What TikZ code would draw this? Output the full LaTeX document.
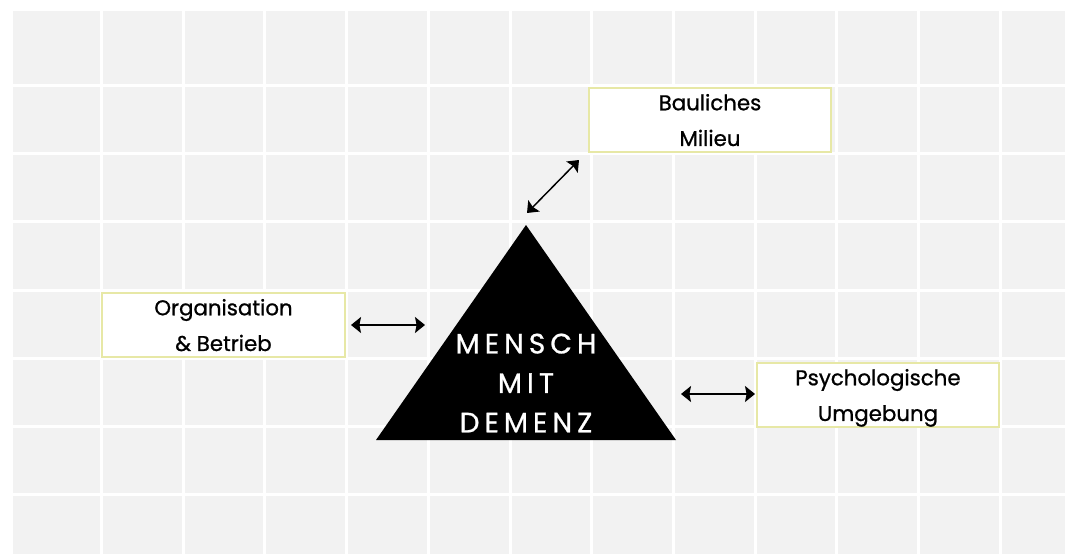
\documentclass[tikz,border=0pt]{standalone}
\usepackage{fontspec}
\setmainfont{Poppins}[FakeBold=0.9]
\usetikzlibrary{arrows.meta}
\definecolor{panel}{HTML}{F2F2F2}
\definecolor{boxrim}{HTML}{E7E8A6}
\begin{document}
\begin{tikzpicture}[x=0.75pt,y=-0.75pt,
  gridline/.style={white,line width=2.25pt},
  factor/.style={draw=boxrim,fill=white,line width=1.5pt,
    minimum width=182pt,minimum height=48pt,inner sep=0pt,
    align=center,text depth=0pt,
    font=\fontsize{16}{26.8}\selectfont},
  core/.style={text=white,align=center,inner sep=0pt,
    font=\fontsize{21}{29.6}\selectfont\addfontfeatures{LetterSpace=18}},
  tip/.tip={Stealth[length=7.5pt,width=12pt,inset=1.2pt]},
  link/.style={line width=1.1pt,tip-tip}
]
\useasboundingbox (0,0) rectangle (1065,554);
% background panel with a white grid
\fill[white] (0,0) rectangle (1065,554);
\fill[panel] (13,11) rectangle (1065,554);
\foreach \k in {0,...,11}
  \draw[gridline] ({101.5+81.7*\k},11) -- ({101.5+81.7*\k},554);
\foreach \k in {0,...,6}
  \draw[gridline] (13,{85.5+68.2*\k}) -- (1065,{85.5+68.2*\k});

% central triangle
\fill[black] (526,225) coordinate (apex) -- (676,440) coordinate (br)
  -- (376,440) coordinate (bl) -- cycle;
\node[core] (core) at (526,383) {MENSCH\\MIT\\DEMENZ};

% surrounding factors
\node[factor] (bau) at (710,120) {Bauliches\\Milieu};
\node[factor] (org) at (223.5,325) {Organisation\\\& Betrieb};
\node[factor] (psy) at (878,395) {Psychologische\\Umgebung};

% connector end points
\coordinate (bauA) at (527,213);
\coordinate (bauB) at (579,160);
\coordinate (orgA) at (351,325);
\coordinate (orgB) at (425,325);
\coordinate (psyA) at (681,394);
\coordinate (psyB) at (755,394);

\draw[link] (bauA) -- (bauB);
\draw[link] (orgA) -- (orgB);
\draw[link] (psyA) -- (psyB);
\end{tikzpicture}
\end{document}
